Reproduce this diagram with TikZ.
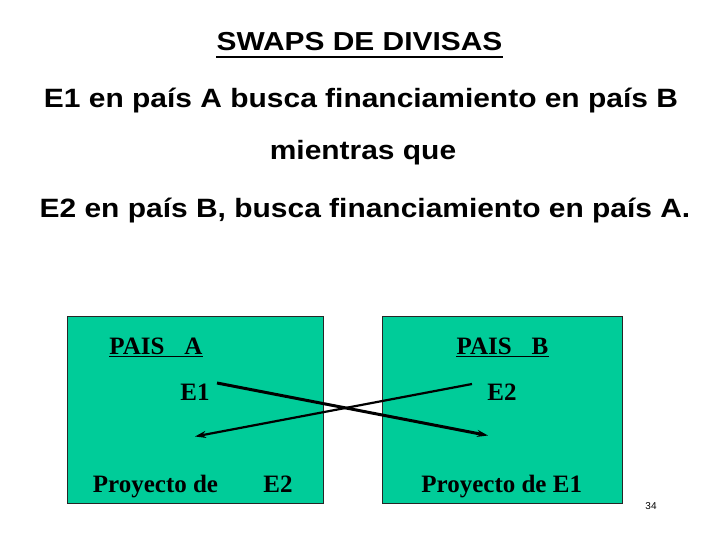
\documentclass[tikz,border=0pt]{standalone}
\usepackage{fontspec}
\usepackage{graphicx}
\setmainfont{Liberation Serif}
\newfontfamily\arialf{Liberation Sans}
\usetikzlibrary{arrows.meta}
\definecolor{boxgreen}{RGB}{0,204,153}

\begin{document}
\begin{tikzpicture}[x=1pt,y=-1pt,
  hdr/.style={inner sep=0pt, anchor=base, font=\arialf\bfseries},
  ser/.style={inner sep=0pt, anchor=base, font=\fontsize{25}{25}\selectfont\bfseries},
  country/.style={draw=black!85, line width=1pt, fill=boxgreen, inner sep=0pt, anchor=north west},
  flow/.style={-{Stealth[length=11pt,width=7pt]}},
  uline/.style={line width=1.8pt}
]
\useasboundingbox[fill=white] (0,0) rectangle (720,540);

% headings
\node[hdr] (title) at (359.5,51) {\scalebox{1.15}[1]{\fontsize{26}{26}\selectfont SWAPS DE DIVISAS}};
\draw[line width=2.4pt] ([yshift=-6pt]title.base west) -- ([yshift=-6pt]title.base east);
\node[hdr] (l1) at (361,108) {\scalebox{1.13}[1]{\fontsize{26.5}{26.5}\selectfont E1 en país A busca financiamiento en país B}};
\node[hdr] (l2) at (363,160) {\scalebox{1.13}[1]{\fontsize{26.5}{26.5}\selectfont mientras que}};
\node[hdr] (l3) at (365,218) {\scalebox{1.13}[1]{\fontsize{26.5}{26.5}\selectfont E2 en país B, busca financiamiento en país A.}};

% boxes
\node[country, minimum width=256pt, minimum height=187pt] (boxA) at (67,316) {};
\node[country, minimum width=240pt, minimum height=187pt] (boxB) at (382,316) {};

% box texts
\node[ser] (paisA) at (156,354) {PAIS\hspace{0.8em}A};
\draw[uline] ([yshift=-2.5pt]paisA.base west) -- ([yshift=-2.5pt]paisA.base east);
\node[ser] (e1a) at (195,400) {E1};
\node[ser] (proyA) at (155.5,492) {Proyecto de};
\node[ser] (e2a) at (278,492) {E2};

\node[ser] (paisB) at (502.5,354) {PAIS\hspace{0.8em}B};
\draw[uline] ([yshift=-2.5pt]paisB.base west) -- ([yshift=-2.5pt]paisB.base east);
\node[ser] (e2b) at (502,400) {E2};
\node[ser] (proyB) at (501.7,492) {Proyecto de E1};

% arrows
\coordinate (a1s) at (217,383);
\coordinate (a1e) at (488,435.5);
\coordinate (a2s) at (472,384);
\coordinate (a2e) at (195,436.5);
\draw[flow, line width=3pt] (a1s) -- (a1e);
\draw[flow, line width=2.2pt] (a2s) -- (a2e);

% page number
\node[anchor=base, inner sep=0pt, font=\arialf\fontsize{10}{10}\selectfont] (pg) at (651,509) {34};
\end{tikzpicture}
\end{document}
